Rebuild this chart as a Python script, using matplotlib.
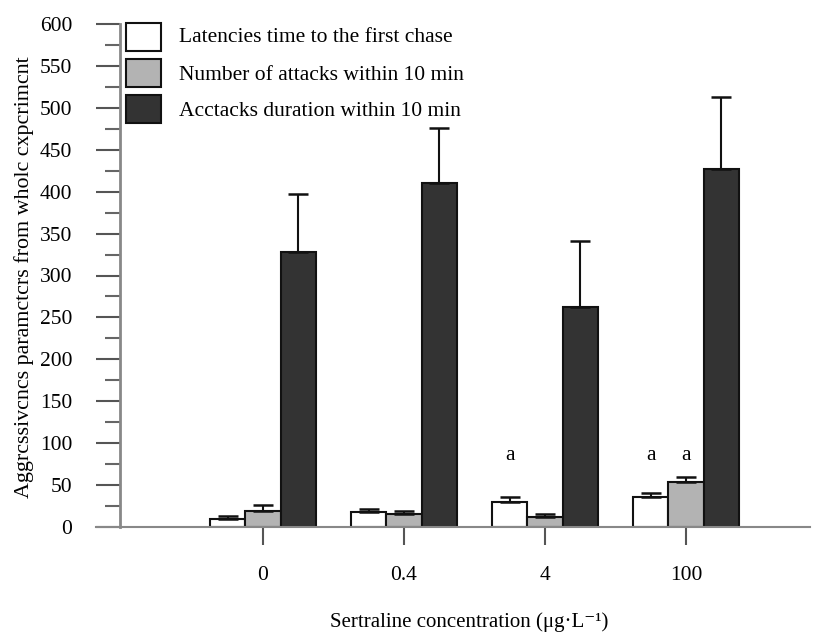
import matplotlib
matplotlib.use("Agg")
import matplotlib.pyplot as plt
import numpy as np
from matplotlib.patches import Rectangle
from matplotlib.ticker import MultipleLocator

plt.rcParams['font.family'] = ['Liberation Serif', 'DejaVu Sans']

categories = ['0', '0.4', '4', '100']
series_names = ['Latencies time to the first chase',
                'Number of attacks within 10 min',
                'Acctacks duration within 10 min']
latency = [10, 18, 30, 36]
latency_err = [3, 4, 6, 4]
attacks = [19, 15.5, 12, 54]
attacks_err = [7, 3.5, 3.5, 6]
duration = [328, 410, 262, 427]
duration_err = [69, 66, 79, 86]
annot_letters = [(2, 0, 'a'), (3, 0, 'a'), (3, 1, 'a')]

colors = ['white', '#b3b3b3', '#333333']
W, H = 815, 635
fig = plt.figure(figsize=(W / 100, H / 100), dpi=100)
ax_left_px, ax_right_px, ax_bottom_px, ax_top_px = 96, 810, 527, 24
ax = fig.add_axes([ax_left_px / W, 1 - ax_bottom_px / H,
                   (ax_right_px - ax_left_px) / W, (ax_bottom_px - ax_top_px) / H])

spacing_px = 141.0
center0_px = 263.0
x_lo = (ax_left_px - center0_px) / spacing_px
x_hi = (ax_right_px - center0_px) / spacing_px
spine_x = (120 - center0_px) / spacing_px

x = np.arange(len(categories))
bw = 0.25
vals = [latency, attacks, duration]
errs = [latency_err, attacks_err, duration_err]
offsets = [-bw, 0, bw]
for v, e, c, off, name in zip(vals, errs, colors, offsets, series_names):
    ax.bar(x + off, v, width=bw, color=c, edgecolor='#111111', linewidth=1.5,
           label=name, zorder=2)
    ax.errorbar(x + off, v, yerr=[np.zeros(len(e)), e], fmt='none',
                ecolor='#111111', elinewidth=1.5, capsize=7, capthick=1.8, zorder=3)

for gi, si, t in annot_letters:
    ax.text(x[gi] + offsets[si], 85, t, ha='center', va='center', fontsize=15.5)

ax.set_xlim(x_lo, x_hi)
ax.set_ylim(0, 600)
for s in ['top', 'right']:
    ax.spines[s].set_visible(False)
ax.spines['left'].set_position(('data', spine_x))
ax.spines['left'].set_color('#888888')
ax.spines['bottom'].set_color('#888888')
ax.spines['left'].set_linewidth(2)
ax.spines['bottom'].set_linewidth(1.5)

ax.yaxis.set_major_locator(MultipleLocator(50))
ax.yaxis.set_minor_locator(MultipleLocator(25))
ax.tick_params(axis='y', which='major', direction='out', length=17.3, width=1.5,
               color='#555555', labelsize=15.5, pad=17)
ax.tick_params(axis='y', which='minor', direction='out', length=10.8, width=1.5,
               color='#666666')
ax.set_xticks(x)
ax.set_xticklabels(categories)
ax.tick_params(axis='x', direction='out', length=13, width=1.5, color='#555555',
               labelsize=15.5, pad=15)

fig.text(24 / W, 1 - 277 / H, 'Aggrcssivcncs paramctcrs from wholc cxpcrimcnt',
         rotation=90, ha='center', va='center', fontsize=15.8)
fig.text(469 / W, 1 - 622 / H, 'Sertraline concentration (μg·L⁻¹)',
         ha='center', va='center', fontsize=15)

# legend drawn as boxes + text in figure pixel coordinates
box_x, box_w, box_h = 126, 35, 28
row_tops = [23, 59, 95]
text_centers = [37, 75, 111]
for c, name, top, tc in zip(colors, series_names, row_tops, text_centers):
    fig.patches.append(Rectangle((box_x / W, 1 - (top + box_h) / H), box_w / W, box_h / H,
                                 transform=fig.transFigure, facecolor=c,
                                 edgecolor='#111111', linewidth=1.5))
    fig.text(179 / W, 1 - tc / H, name, ha='left', va='center', fontsize=15.5)

fig.savefig('out.png', dpi=100)
